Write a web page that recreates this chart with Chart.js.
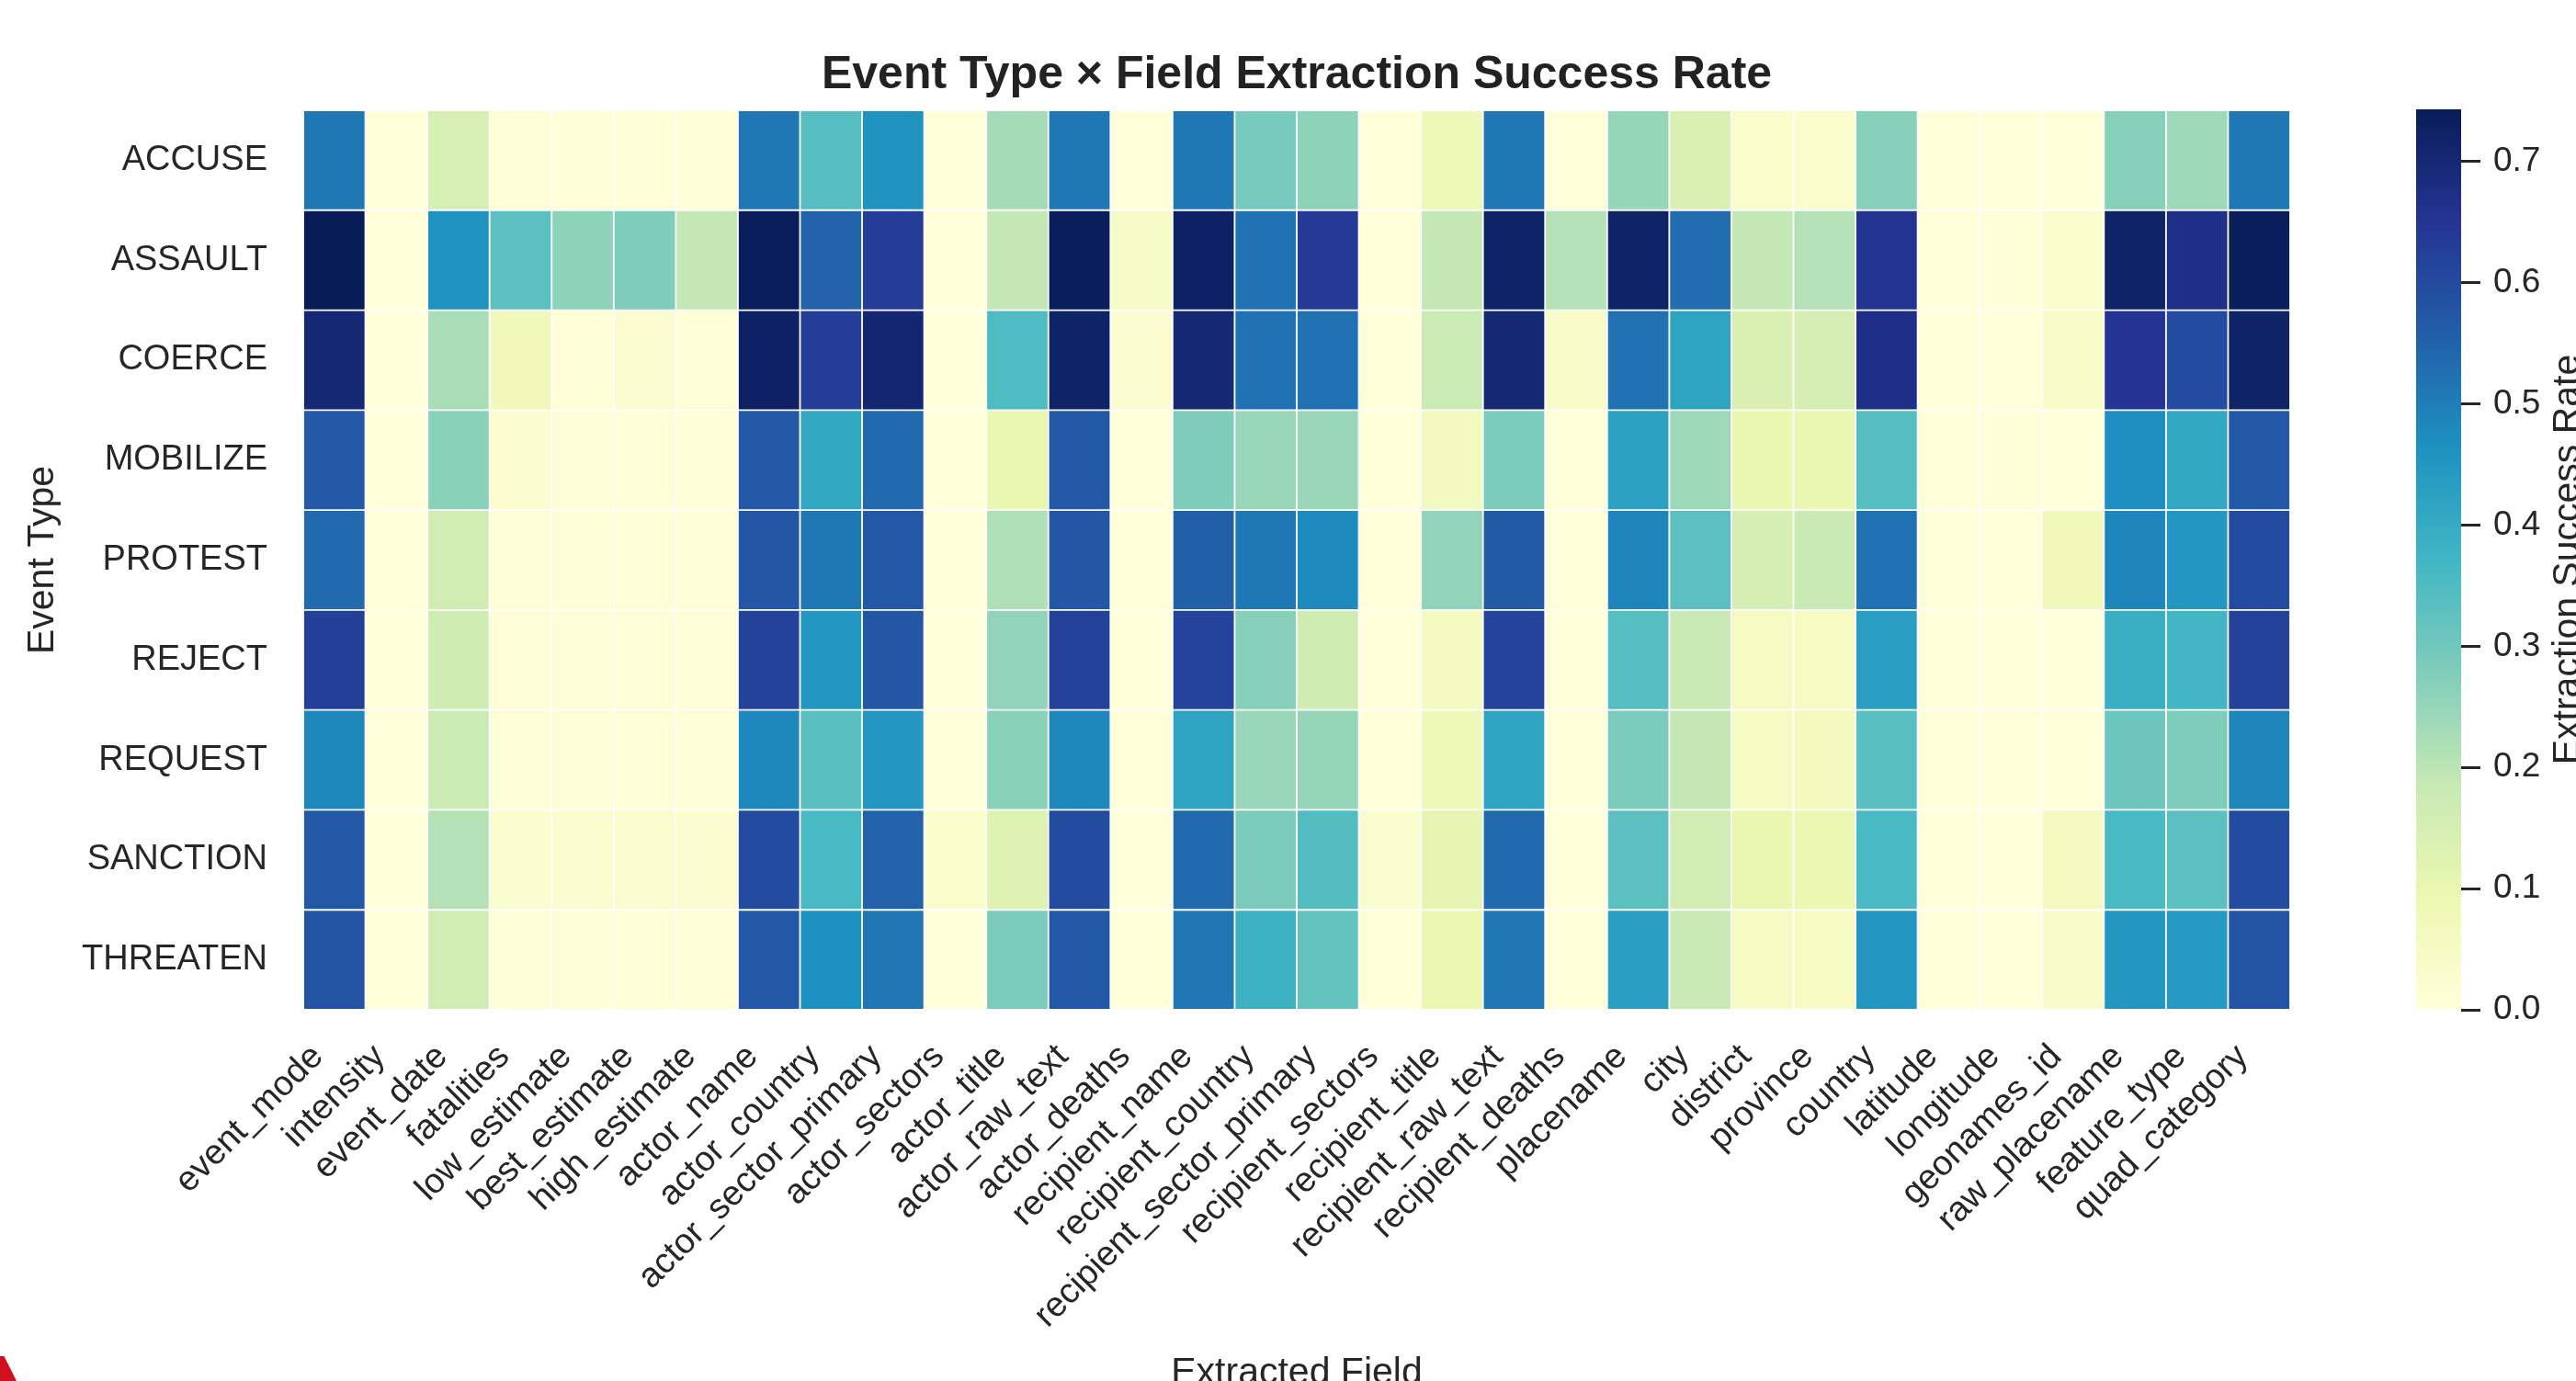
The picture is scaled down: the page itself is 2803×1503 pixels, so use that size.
<!DOCTYPE html>
<html>
<head>
<meta charset="utf-8">
<title>Event Type × Field Extraction Success Rate</title>
<script src="https://cdn.jsdelivr.net/npm/chart.js@4.4.1/dist/chart.umd.min.js"></script>
<style>
  html, body { margin: 0; padding: 0; background: #ffffff; overflow: hidden; }
  #wrap { position: relative; width: 2803px; height: 1503px; }
  #heat, #cbar { position: absolute; left: 0; top: 0; }
  #corner { position: absolute; left: 0; top: 1476px; width: 18px; height: 27px; background: #d0101c;
            clip-path: polygon(0 0, 25% 0, 100% 100%, 0 100%); }
</style>
</head>
<body>
<div id="wrap">
  <canvas id="heat" width="2803" height="1503"></canvas>
  <canvas id="cbar" width="2803" height="1503"></canvas>
  <div id="corner"></div>
</div>
<script>
// Row categories (event types) and column categories (extracted fields)
const events = ['ACCUSE', 'ASSAULT', 'COERCE', 'MOBILIZE', 'PROTEST', 'REJECT', 'REQUEST', 'SANCTION', 'THREATEN'];
const fields = ['event_mode', 'intensity', 'event_date', 'fatalities', 'low_estimate', 'best_estimate',
  'high_estimate', 'actor_name', 'actor_country', 'actor_sector_primary', 'actor_sectors', 'actor_title',
  'actor_raw_text', 'actor_deaths', 'recipient_name', 'recipient_country', 'recipient_sector_primary',
  'recipient_sectors', 'recipient_title', 'recipient_raw_text', 'recipient_deaths', 'placename', 'city',
  'district', 'province', 'country', 'latitude', 'longitude', 'geonames_id', 'raw_placename',
  'feature_type', 'quad_category'];

// Extraction success rate per field, one array per event type
const accuse   = [0.51, 0, 0.15, 0.01, 0.005, 0.005, 0.005, 0.51, 0.34, 0.46, 0, 0.23, 0.51, 0, 0.51, 0.29, 0.26, 0, 0.08, 0.51, 0, 0.25, 0.14, 0.03, 0.03, 0.27, 0, 0, 0, 0.27, 0.24, 0.51];
const assault  = [0.743, 0, 0.46, 0.33, 0.26, 0.28, 0.19, 0.74, 0.55, 0.63, 0, 0.19, 0.74, 0.045, 0.725, 0.52, 0.64, 0, 0.19, 0.72, 0.21, 0.72, 0.53, 0.19, 0.21, 0.655, 0, 0.005, 0.03, 0.72, 0.67, 0.74];
const coerce   = [0.70, 0, 0.225, 0.075, 0.005, 0.02, 0.01, 0.725, 0.63, 0.705, 0, 0.35, 0.72, 0.02, 0.70, 0.52, 0.52, 0, 0.175, 0.70, 0.04, 0.52, 0.42, 0.14, 0.155, 0.67, 0, 0, 0.04, 0.65, 0.60, 0.72];
const mobilize = [0.57, 0, 0.265, 0.02, 0.01, 0.01, 0.01, 0.57, 0.41, 0.535, 0, 0.10, 0.57, 0, 0.28, 0.245, 0.245, 0, 0.06, 0.285, 0, 0.425, 0.24, 0.10, 0.10, 0.34, 0, 0.005, 0, 0.47, 0.41, 0.57];
const protest  = [0.535, 0, 0.16, 0.01, 0.01, 0.01, 0.01, 0.575, 0.51, 0.57, 0, 0.215, 0.575, 0, 0.555, 0.51, 0.475, 0, 0.255, 0.565, 0, 0.485, 0.33, 0.155, 0.18, 0.52, 0, 0, 0.075, 0.485, 0.45, 0.60];
const reject   = [0.625, 0, 0.165, 0.01, 0.01, 0.01, 0.01, 0.62, 0.45, 0.575, 0, 0.255, 0.62, 0, 0.615, 0.27, 0.165, 0, 0.055, 0.615, 0, 0.34, 0.18, 0.05, 0.05, 0.43, 0, 0, 0, 0.39, 0.37, 0.62];
const request  = [0.48, 0, 0.175, 0.01, 0.01, 0.01, 0.01, 0.48, 0.335, 0.45, 0, 0.265, 0.48, 0, 0.42, 0.245, 0.25, 0, 0.08, 0.415, 0, 0.285, 0.19, 0.05, 0.065, 0.335, 0, 0, 0, 0.305, 0.28, 0.485];
const sanction = [0.57, 0, 0.21, 0.025, 0.025, 0.025, 0.02, 0.60, 0.36, 0.55, 0.03, 0.13, 0.60, 0, 0.535, 0.285, 0.345, 0.025, 0.11, 0.535, 0, 0.33, 0.16, 0.10, 0.095, 0.36, 0, 0, 0.055, 0.36, 0.33, 0.60];
const threaten = [0.58, 0, 0.16, 0.01, 0.01, 0.01, 0.01, 0.57, 0.465, 0.515, 0, 0.285, 0.57, 0, 0.515, 0.385, 0.32, 0, 0.095, 0.515, 0, 0.43, 0.18, 0.05, 0.05, 0.45, 0, 0, 0.035, 0.45, 0.445, 0.58];
const rows = [accuse, assault, coerce, mobilize, protest, reject, request, sanction, threaten];

// Colour bar tick step
const cbarStep = 0.1;

// YlGnBu colour ramp anchors
const YLGNBU = [[255,255,217],[237,248,177],[199,233,180],[127,205,187],[65,182,196],
                [29,145,192],[34,94,168],[37,52,148],[8,29,88]];
function rgb(c) { return 'rgb(' + c.map(Math.round).join(',') + ')'; }
function ylgnbu(t) {
  t = Math.min(1, Math.max(0, t));
  const p = t * (YLGNBU.length - 1);
  const i = Math.min(YLGNBU.length - 2, Math.floor(p));
  const f = p - i, a = YLGNBU[i], b = YLGNBU[i + 1];
  return rgb([0, 1, 2].map(k => a[k] + (b[k] - a[k]) * f));
}

const vmax = Math.max(...rows.flat());
const FONT = '"Liberation Sans", Arial, Helvetica, sans-serif';
const INK = '#262626';
Chart.defaults.font.family = FONT;
Chart.defaults.color = INK;

// Heatmap: each event type is a row of floating bars spanning one unit on the row axis
new Chart(document.getElementById('heat'), {
  type: 'bar',
  data: {
    labels: fields,
    datasets: rows.map((vals, r) => ({
      label: events[r],
      data: vals.map(() => [r, r + 1]),
      backgroundColor: vals.map(v => ylgnbu(v / vmax)),
      borderColor: '#ffffff',
      borderWidth: 1.25,
      borderSkipped: false,
      grouped: false,
      barPercentage: 1,
      categoryPercentage: 1
    }))
  },
  options: {
    responsive: false,
    animation: false,
    devicePixelRatio: 1,
    events: [],
    layout: { padding: { left: 0, right: 311, top: 0, bottom: 0 } },
    plugins: {
      legend: { display: false },
      tooltip: { enabled: false },
      title: {
        display: true,
        fullSize: false,
        text: 'Event Type × Field Extraction Success Rate',
        color: '#222222',
        font: { size: 50, weight: 'bold', family: FONT },
        padding: { top: 52, bottom: 8 }
      }
    },
    scales: {
      x: {
        type: 'category',
        offset: true,
        grid: { display: false, drawTicks: false },
        border: { display: false },
        ticks: { autoSkip: false, maxRotation: 45, minRotation: 45, padding: 29, labelOffset: -18, color: INK,
                 font: { size: 38, family: FONT } },
        title: { display: true, text: 'Extracted Field', color: INK,
                 font: { size: 41, family: FONT, lineHeight: 0.4 }, padding: { top: 0, bottom: 0 } },
        afterFit: s => { s.height = 404; }
      },
      y: {
        type: 'linear',
        min: 0,
        max: events.length,
        reverse: true,
        grid: { display: false, drawTicks: false },
        border: { display: false },
        afterBuildTicks: s => { s.ticks = events.map((_, i) => ({ value: i + 0.5 })); },
        ticks: { autoSkip: false, padding: 39, labelOffset: 0, color: INK,
                 font: { size: 38, family: FONT }, callback: (v, i) => events[i] },
        title: { display: true, text: 'Event Type', color: INK,
                 font: { size: 41, family: FONT }, padding: { top: 22, bottom: 0 } },
        afterFit: s => { s.width = 330; }
      }
    }
  }
});

// Rotated caption for the colour bar, read bottom to top
const cbarCaption = {
  id: 'cbarCaption',
  afterDraw(chart) {
    const s = chart.scales.y, ctx = chart.ctx;
    ctx.save();
    ctx.translate(s.right - 8.5, (s.top + s.bottom) / 2);
    ctx.rotate(-Math.PI / 2);
    ctx.font = '41px ' + FONT;
    ctx.fillStyle = INK;
    ctx.textAlign = 'center';
    ctx.textBaseline = 'middle';
    ctx.fillText('Extraction Success Rate', 0, 0);
    ctx.restore();
  }
};

// Colour bar: a single floating bar from 0 to the data maximum, filled with the ramp
new Chart(document.getElementById('cbar'), {
  type: 'bar',
  data: {
    labels: ['rate'],
    datasets: [{
      data: [[0, vmax]],
      backgroundColor: c => {
        const a = c.chart.chartArea;
        if (!a) return rgb(YLGNBU[0]);
        const g = c.chart.ctx.createLinearGradient(0, a.bottom, 0, a.top);
        YLGNBU.forEach((col, k) => g.addColorStop(k / (YLGNBU.length - 1), rgb(col)));
        return g;
      },
      borderWidth: 0,
      barPercentage: 1,
      categoryPercentage: 1
    }]
  },
  options: {
    responsive: false,
    animation: false,
    devicePixelRatio: 1,
    events: [],
    layout: { padding: { left: 2629, right: 0, top: 119, bottom: 404 } },
    plugins: { legend: { display: false }, tooltip: { enabled: false }, title: { display: false } },
    scales: {
      x: { display: false },
      y: {
        position: 'right',
        min: 0,
        max: vmax,
        grid: { drawOnChartArea: false, drawTicks: true, tickLength: 21, tickWidth: 3, tickColor: INK },
        border: { display: false },
        ticks: { stepSize: cbarStep, includeBounds: false, padding: 14, color: INK,
                 font: { size: 37, family: FONT }, callback: v => v.toFixed(1) },
        afterFit: s => { s.width = 125; }
      }
    }
  },
  plugins: [cbarCaption]
});
</script>
</body>
</html>
